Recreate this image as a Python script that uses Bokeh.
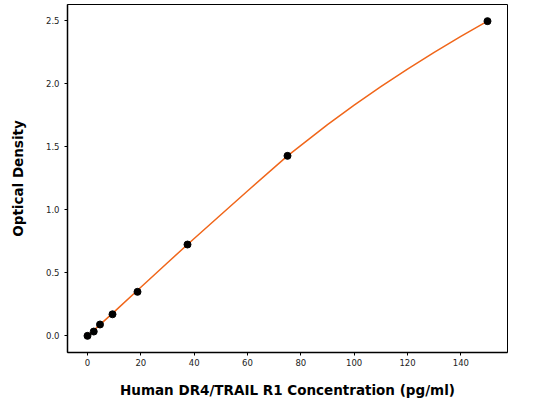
from bokeh.embed import file_html
from bokeh.models import ColumnDataSource, FixedTicker, PrintfTickFormatter, Range1d
from bokeh.plotting import figure
from bokeh.resources import INLINE

# standard points (concentration pg/ml, OD)
conc = [0, 2.34, 4.69, 9.38, 18.75, 37.5, 75, 150]
od = [0.0, 0.034, 0.09, 0.171, 0.349, 0.724, 1.427, 2.495]

# fitted curve
curve_x = [0, 10, 20, 30, 37.5, 50, 60, 75, 90, 100, 110, 120, 130, 140, 150]
curve_y = [0.0, 0.19, 0.385, 0.58, 0.724, 0.96, 1.148, 1.427, 1.675, 1.83, 1.975,
           2.115, 2.248, 2.375, 2.495]

x_ticks = [0, 20, 40, 60, 80, 100, 120, 140]
y_ticks = [0.0, 0.5, 1.0, 1.5, 2.0, 2.5]

pts = ColumnDataSource(data=dict(x=conc, y=od))
fit = ColumnDataSource(data=dict(x=curve_x, y=curve_y))

p = figure(width=525, height=400, output_backend="svg", toolbar_location=None,
           x_range=Range1d(-7.5, 157.5), y_range=Range1d(-0.132, 2.627),
           min_border_left=67, min_border_right=18, min_border_top=4,
           min_border_bottom=48)

p.line('x', 'y', source=fit, line_color="#F0661A", line_width=1.5)
p.scatter('x', 'y', source=pts, size=7, color="black")

p.xgrid.grid_line_color = None
p.ygrid.grid_line_color = None
p.outline_line_color = "black"
p.outline_line_width = 1

p.xaxis.ticker = FixedTicker(ticks=x_ticks)
p.yaxis.ticker = FixedTicker(ticks=y_ticks)
p.yaxis.formatter = PrintfTickFormatter(format="%.1f")

for ax in (p.xaxis, p.yaxis):
    ax.axis_line_color = "black"
    ax.axis_line_width = 1.5
    ax.major_tick_line_color = "black"
    ax.major_tick_in = 0
    ax.major_tick_out = 3
    ax.minor_tick_line_color = None
    ax.major_label_text_font = "DejaVu Sans"
    ax.major_label_text_font_size = "8.5px"
    ax.major_label_text_color = "#222222"
    ax.axis_label_text_font = "DejaVu Sans"
    ax.axis_label_text_font_style = "bold"
    ax.axis_label_text_font_size = "13.5px"
    ax.axis_label_text_color = "black"

p.xaxis.axis_label = "Human DR4/TRAIL R1 Concentration (pg/ml)"
p.yaxis.axis_label = "Optical Density"
p.xaxis.major_label_standoff = 3
p.xaxis.axis_label_standoff = 13
p.yaxis.major_label_standoff = 5
p.yaxis.axis_label_standoff = 17

open("out.html", "w").write(file_html(p, INLINE))
